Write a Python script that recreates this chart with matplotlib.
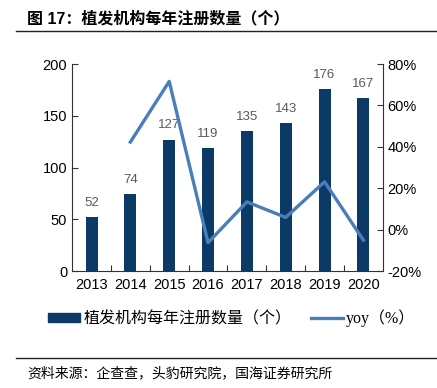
import matplotlib.pyplot as plt
from matplotlib.lines import Line2D
from matplotlib.patches import Patch
from matplotlib.ticker import FuncFormatter

plt.rcParams['font.family'] = ['Liberation Sans', 'Noto Sans CJK SC', 'DejaVu Sans']

years = ['2013', '2014', '2015', '2016', '2017', '2018', '2019', '2020']
counts = [52, 74, 127, 119, 135, 143, 176, 167]
yoy_years = ['2014', '2015', '2016', '2017', '2018', '2019', '2020']
yoy = [42.3, 71.6, -6.3, 13.4, 5.9, 23.1, -5.1]

bar_color = '#0B3A66'
line_color = '#4A7EBB'

fig = plt.figure(figsize=(4.37, 3.88), dpi=100)
ax = fig.add_axes([0.165, 0.3015, 0.711, 0.5335])

x = list(range(len(years)))
ax.bar(x, counts, width=0.31, color=bar_color, zorder=2)
for xi, v in zip(x, counts):
    ax.text(xi, v + 8, str(v), ha='center', va='bottom', fontsize=9.5, color='#595959')

ax.set_xlim(-0.5, len(years) - 0.5)
ax.set_ylim(0, 200)
ax.set_yticks([0, 50, 100, 150, 200])
ax.set_xticks([i + 0.5 for i in x[:-1]], minor=False)
ax.set_xticklabels([])
ax.set_xticks(x, minor=True)
ax.set_xticklabels(years, minor=True)
ax.tick_params(axis='x', which='major', direction='in', length=4, color='#333333')
ax.tick_params(axis='x', which='minor', length=0, labelsize=10.5, pad=5)
ax.tick_params(axis='y', direction='in', length=4, labelsize=10.5, color='#333333')
for s in ['top', 'right']:
    ax.spines[s].set_visible(False)
for s in ['left', 'bottom']:
    ax.spines[s].set_color('#333333')

ax2 = ax.twinx()
xl = [years.index(y) for y in yoy_years]
ax2.plot(xl, yoy, color=line_color, lw=2.4, zorder=3)
ax2.set_ylim(-20, 80)
ax2.set_yticks([-20, 0, 20, 40, 60, 80])
ax2.yaxis.set_major_formatter(FuncFormatter(lambda v, p: f'{v:.0f}%'))
ax2.tick_params(axis='y', direction='in', length=4, labelsize=10.5, color='#333333')
for s in ['top', 'left', 'bottom']:
    ax2.spines[s].set_visible(False)
ax2.spines['right'].set_color('#333333')

# title and rules
fig.text(0.062, 0.953, '图 17：植发机构每年注册数量（个）', fontsize=11.5, fontweight='bold',
         ha='left', va='center', family=['Liberation Sans', 'Noto Sans CJK SC'])
fig.add_artist(Line2D([0.037, 1.0], [0.92, 0.92], color='#222222', lw=1))
fig.add_artist(Line2D([0.037, 1.0], [0.077, 0.077], color='#222222', lw=1))
fig.text(0.062, 0.038, '资料来源：企查查，头豹研究院，国海证券研究所', fontsize=10,
         ha='left', va='center', family=['Noto Sans CJK SC'])

handles = [Patch(facecolor=bar_color, edgecolor=bar_color),
           Line2D([0], [0], color=line_color, lw=2.4)]
labels = ['植发机构每年注册数量（个）', 'yoy（%）']
fig.legend(handles, labels, loc='center', bbox_to_anchor=(0.53, 0.18), ncol=2, frameon=False,
           handlelength=2.0, handleheight=0.5, handletextpad=0.2, columnspacing=1.2,
           prop={'family': ['Liberation Serif', 'Noto Sans CJK SC'], 'size': 11.5})

fig.savefig('out.png', dpi=100)
